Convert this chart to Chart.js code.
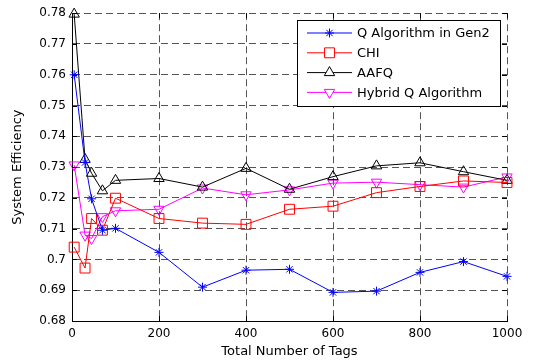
<!DOCTYPE html>
<html>
<head>
<meta charset="utf-8">
<script src="https://cdn.jsdelivr.net/npm/chart.js@4"></script>
<style>
  html, body { margin: 0; padding: 0; background: #fff; }
  #wrap { width: 540px; height: 362px; position: relative; }
</style>
</head>
<body>
<div id="wrap"><canvas id="effChart"></canvas></div>
<script>
const tags = [5, 30, 45, 70, 100, 200, 300, 400, 500, 600, 700, 800, 900, 1000];
const qGen2 = [0.7600, 0.7315, 0.7197, 0.7095, 0.7101, 0.7023, 0.6910, 0.6965, 0.6968, 0.6893, 0.6897, 0.6958, 0.6993, 0.6945];
const chi = [0.7040, 0.6972, 0.7133, 0.7095, 0.7199, 0.7133, 0.7118, 0.7114, 0.7163, 0.7173, 0.7217, 0.7237, 0.7255, 0.7250];
const aafq = [0.7797, 0.7325, 0.7280, 0.7223, 0.7257, 0.7263, 0.7235, 0.7296, 0.7228, 0.7269, 0.7304, 0.7314, 0.7285, 0.7257];
const hybrid = [0.7307, 0.7079, 0.7068, 0.7139, 0.7158, 0.7163, 0.7232, 0.7210, 0.7226, 0.7248, 0.7251, 0.7243, 0.7235, 0.7268];
const seriesNames = ['Q Algorithm in Gen2', 'CHI', 'AAFQ', 'Hybrid Q Algorithm'];

const FONT = 'DejaVu Sans';
const pts = ys => tags.map((x, i) => ({x: x, y: ys[i]}));

function series(label, ys, color, style, radius, rotation) {
    return {
        label: label,
        data: pts(ys),
        borderColor: color,
        backgroundColor: 'rgba(0,0,0,0)',
        borderWidth: 1,
        pointStyle: style,
        pointRadius: radius,
        pointRotation: rotation || 0,
        pointBorderColor: color,
        pointBackgroundColor: 'rgba(0,0,0,0)',
        pointBorderWidth: 1,
        tension: 0,
        clip: false
    };
}

// MATLAB style ticks pointing inward, on all four sides
const innerTicks = {
    id: 'innerTicks',
    afterDatasetsDraw(chart) {
        const ctx = chart.ctx, a = chart.chartArea;
        const xs = chart.scales.x, ys = chart.scales.y;
        ctx.save();
        ctx.strokeStyle = '#000';
        ctx.lineWidth = 1;
        ctx.beginPath();
        ys.ticks.forEach(t => {
            const y = Math.round(ys.getPixelForValue(t.value)) + 0.5;
            ctx.moveTo(a.left, y); ctx.lineTo(a.left + 5, y);
            ctx.moveTo(a.right, y); ctx.lineTo(a.right - 5, y);
        });
        xs.ticks.forEach(t => {
            const x = Math.round(xs.getPixelForValue(t.value)) + 0.5;
            ctx.moveTo(x, a.bottom); ctx.lineTo(x, a.bottom - 5);
            ctx.moveTo(x, a.top); ctx.lineTo(x, a.top + 5);
        });
        ctx.stroke();
        ctx.restore();
    }
};

// legend box inside the plot: line sample with marker, then name
const boxLegend = {
    id: 'boxLegend',
    afterDraw(chart) {
        const ctx = chart.ctx;
        const bx = 297.5, by = 20.5, bw = 203, bh = 86;
        ctx.save();
        ctx.fillStyle = '#fff';
        ctx.fillRect(bx, by, bw, bh);
        ctx.strokeStyle = '#000';
        ctx.lineWidth = 1;
        ctx.strokeRect(bx, by, bw, bh);
        ctx.font = '13px "' + FONT + '"';
        ctx.textBaseline = 'middle';
        chart.data.datasets.forEach((ds, i) => {
            const y = 33 + i * 19.8;
            ctx.strokeStyle = ds.borderColor;
            ctx.lineWidth = 1;
            ctx.beginPath();
            ctx.moveTo(307, y); ctx.lineTo(352, y);
            ctx.stroke();
            ctx.fillStyle = '#fff';
            Chart.helpers.drawPoint(ctx, {
                pointStyle: ds.pointStyle,
                rotation: ds.pointRotation,
                radius: ds.pointRadius,
                borderWidth: 1
            }, 329.5, y);
            ctx.fillStyle = '#000';
            ctx.fillText(ds.label, 357, y + 1);
        });
        ctx.restore();
    }
};

new Chart(document.getElementById('effChart'), {
    type: 'line',
    data: {
        datasets: [
            series(seriesNames[0], qGen2, '#0000ff', 'star', 4.5),
            series(seriesNames[1], chi, '#ff0000', 'rect', 7),
            series(seriesNames[2], aafq, '#000000', 'triangle', 6),
            series(seriesNames[3], hybrid, '#ff00ff', 'triangle', 6, 180)
        ]
    },
    options: {
        responsive: true,
        maintainAspectRatio: false,
        animation: false,
        layout: { padding: { left: 0, top: 13, right: 33, bottom: 0 } },
        plugins: {
            legend: { display: false },
            tooltip: { enabled: false }
        },
        scales: {
            x: {
                type: 'linear',
                min: 0,
                max: 1000,
                ticks: { stepSize: 200, color: '#000', padding: 6, maxRotation: 0, font: { family: FONT, size: 12 },
                    callback: v => String(v) },
                grid: { color: '#555', lineWidth: 1, drawTicks: false },
                border: { display: true, color: '#000', width: 1, dash: [7, 4] },
                title: { display: true, text: 'Total Number of Tags', color: '#000', font: { family: FONT, size: 13 }, padding: { top: 0, bottom: 3 } },
                afterFit(s) { s.height = 41; }
            },
            y: {
                min: 0.68,
                max: 0.78,
                ticks: { stepSize: 0.01, color: '#000', padding: 6, font: { family: FONT, size: 12 },
                    callback: v => String(+v.toFixed(2)) },
                grid: { color: '#555', lineWidth: 1, drawTicks: false },
                border: { display: true, color: '#000', width: 1, dash: [7, 4] },
                title: { display: true, text: 'System Efficiency', color: '#000', font: { family: FONT, size: 13 }, padding: { top: 10, bottom: 0 } },
                afterFit(s) { s.width = 72; }
            }
        }
    },
    plugins: [innerTicks, boxLegend]
});
</script>
</body>
</html>
